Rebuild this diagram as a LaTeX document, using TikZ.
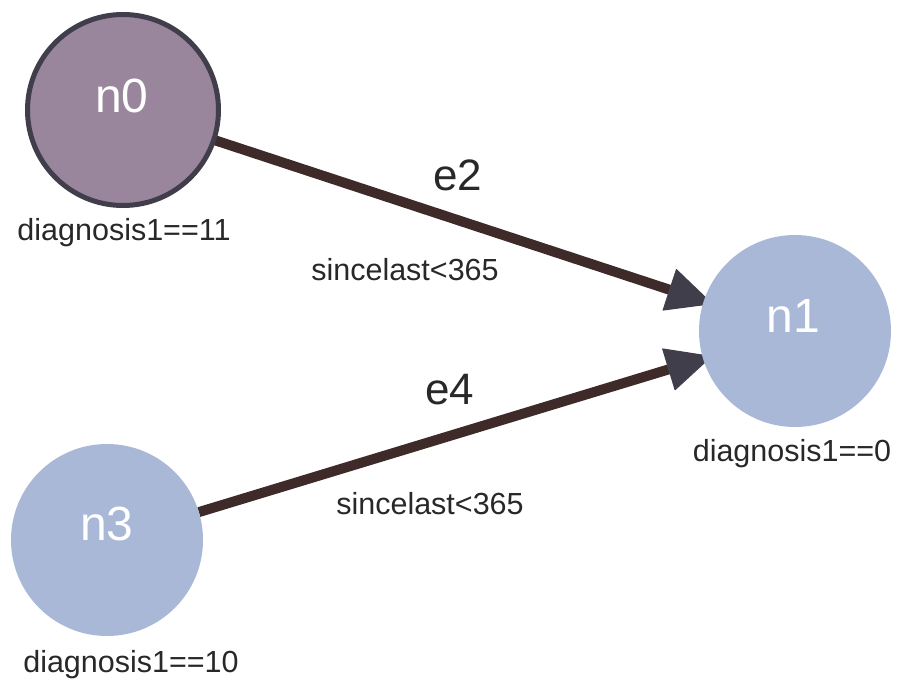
\documentclass[tikz,border=0pt]{standalone}
\usepackage{fontspec}
\setmainfont{Liberation Sans}
\usetikzlibrary{arrows.meta,backgrounds}
\definecolor{purplenode}{HTML}{99859C}
\definecolor{bluenode}{HTML}{AAB8D8}
\definecolor{nodeborder}{HTML}{403E4A}
\definecolor{edgebrown}{HTML}{3E2A28}
\definecolor{tipgray}{HTML}{403E4A}
\definecolor{labeltext}{HTML}{282828}
\begin{document}
\begin{tikzpicture}[x=1pt,y=1pt,
  vertex/.style={circle, inner sep=0pt, outer sep=0pt, minimum size=192pt},
  vertextext/.style={anchor=base, text=white, inner sep=0pt, font=\fontsize{48}{48}\selectfont},
  nodelabel/.style={anchor=base, text=labeltext, inner sep=0pt, font=\fontsize{30.5}{30.5}\selectfont},
  edgename/.style={anchor=base, text=labeltext, inner sep=0pt, font=\fontsize{44}{44}\selectfont},
  edgecond/.style={anchor=base, text=labeltext, inner sep=0pt, font=\fontsize{30.5}{30.5}\selectfont},
  edgeline/.style={draw=edgebrown, line width=10pt, shorten >=-9pt,
    -{Triangle[length=46pt,width=44pt,line width=1pt,color=tipgray,round]}}
]
\useasboundingbox (0,0) rectangle (897,-680);
% nodes
\node[vertex, fill=purplenode, draw=nodeborder, line width=5pt, minimum size=191pt] (n0) at (123,-110) {};
\node[vertex, fill=bluenode] (n1) at (795,-331) {};
\node[vertex, fill=bluenode] (n3) at (107,-540) {};
\node[vertextext] (n0t) at (122,-112) {n0};
\node[vertextext] (n1t) at (793,-332) {n1};
\node[vertextext] (n3t) at (107,-540) {n3};
% node labels
\node[nodelabel] (l0) at (124,-240) {diagnosis1==11};
\node[nodelabel] (l1) at (792,-461) {diagnosis1==0};
\node[nodelabel] (l3) at (131,-672) {diagnosis1==10};
% edges
\begin{scope}[on background layer]
\draw[edgeline] (n0) -- (n1);
\draw[edgeline] (n3) -- (n1);
\end{scope}
% edge labels
\node[edgename] (e2) at (458,-190) {e2};
\node[edgecond] (c2) at (405,-280) {sincelast<365};
\node[edgename] (e4) at (450,-404) {e4};
\node[edgecond] (c4) at (430,-514) {sincelast<365};
\end{tikzpicture}
\end{document}
